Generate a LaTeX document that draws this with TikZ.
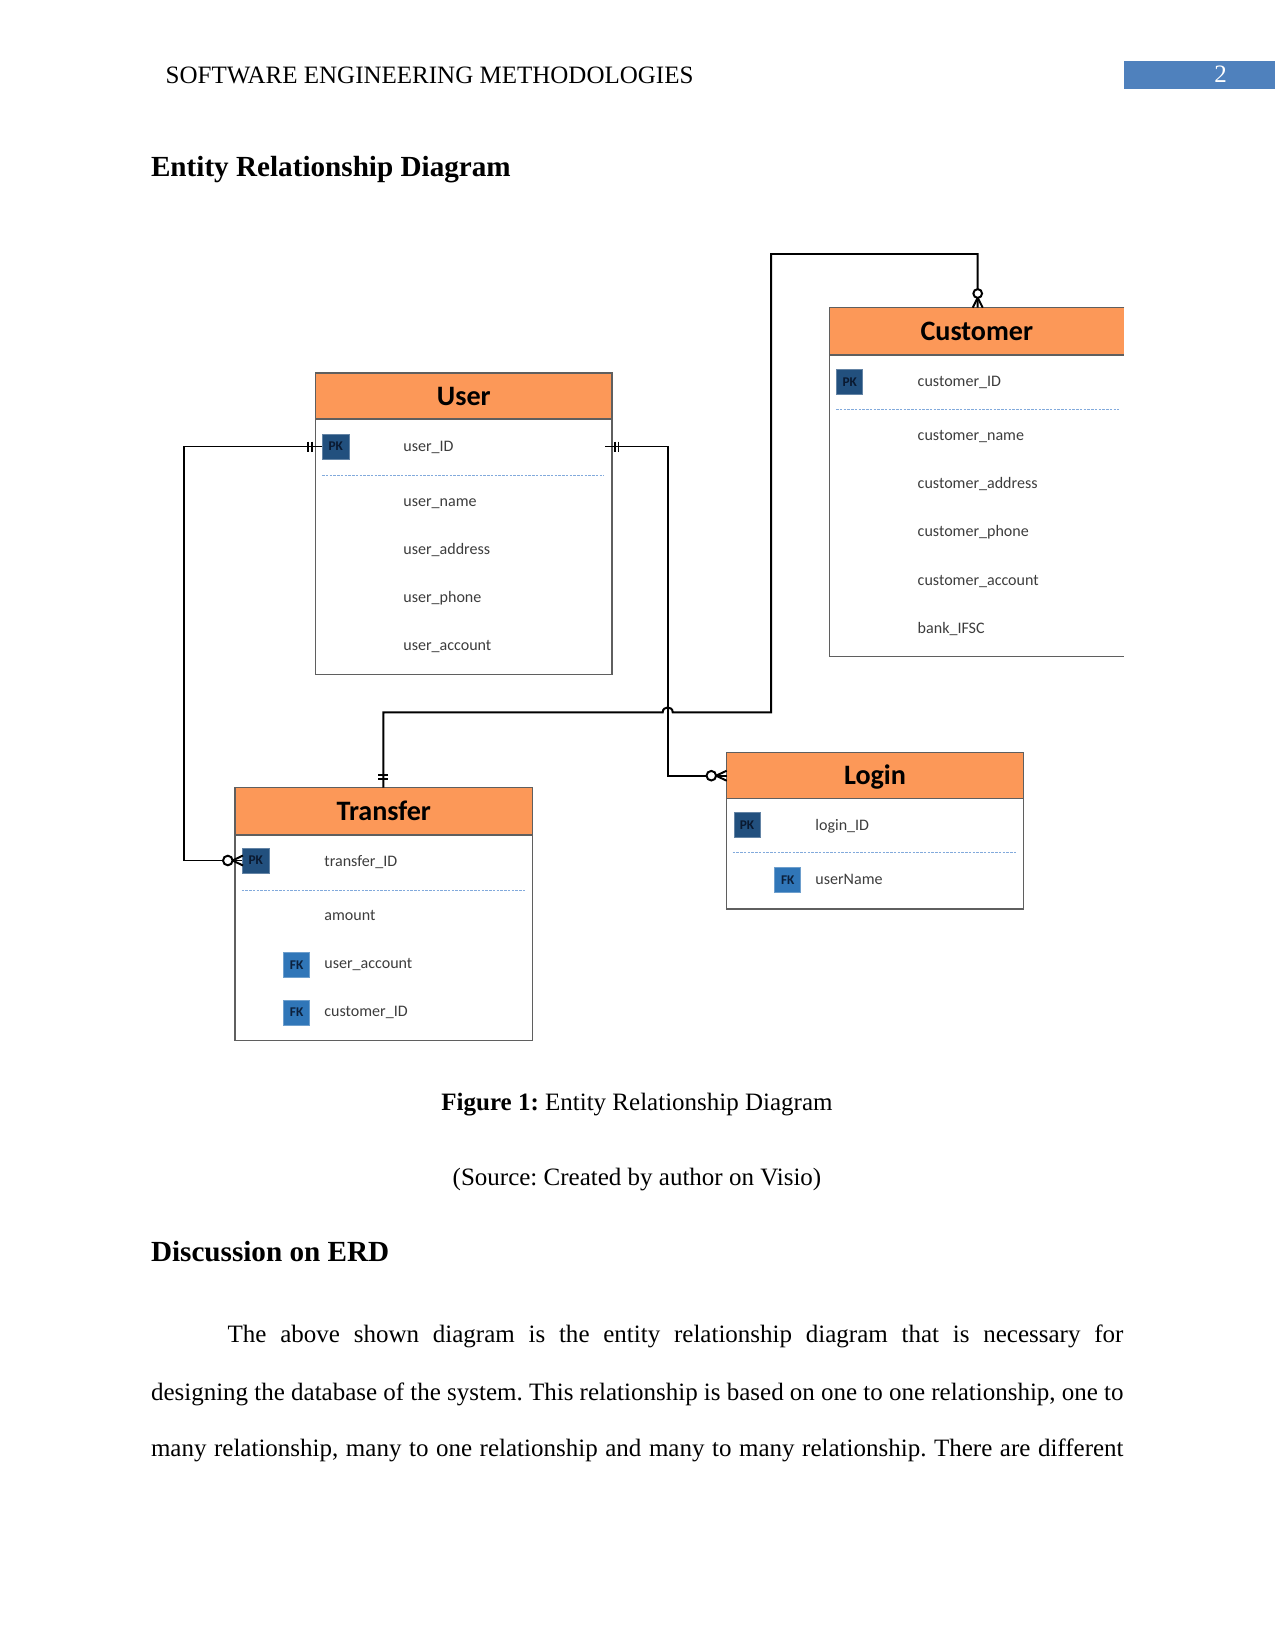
\documentclass[tikz,border=0pt]{standalone}
\usepackage{fontspec}
\setmainfont{Liberation Serif}
\newfontfamily\erd{Carlito}
\definecolor{boxgray}{RGB}{95,95,95}
\definecolor{hdrorange}{RGB}{252,152,88}
\definecolor{pkblue}{RGB}{34,80,126}
\definecolor{fkblue}{RGB}{48,118,184}
\definecolor{pktext}{RGB}{10,25,48}
\definecolor{fktext}{RGB}{12,32,60}
\definecolor{rowgray}{RGB}{60,60,60}
\definecolor{seplblue}{RGB}{130,170,220}
\definecolor{pagenum}{RGB}{79,129,189}
\begin{document}
\frenchspacing
\begin{tikzpicture}[x=0.48pt,y=-0.48pt,
  boxline/.style={draw=boxgray,line width=0.7pt},
  conn/.style={line width=0.95pt,draw=black},
  rowtxt/.style={anchor=base west,inner sep=0pt,font=\erd\fontsize{7.7}{9}\selectfont,text=rowgray},
  etitle/.style={anchor=base,inner sep=0pt,font=\erd\bfseries\fontsize{13.5}{16}\selectfont,text=black},
  keybox/.style={minimum width=12.5pt,minimum height=12pt,inner sep=0pt,line width=0.3pt,font=\erd\bfseries\fontsize{6.4}{7}\selectfont},
  pkbox/.style={keybox,fill=pkblue,draw=pkblue!70!white,text=pktext},
  fkbox/.style={keybox,fill=fkblue,draw=fkblue!70!white,text=fktext},
  sepline/.style={draw=seplblue,line width=0.45pt,dash pattern=on 1.2pt off 0.6pt},
  ptext/.style={anchor=base west,inner sep=0pt,font=\fontsize{12}{14}\selectfont},
  ctext/.style={anchor=base,inner sep=0pt,font=\fontsize{12}{14}\selectfont},
  headtext/.style={anchor=base west,inner sep=0pt,font=\bfseries\fontsize{14}{16}\selectfont}]
\useasboundingbox (0,0) rectangle (1275,1651);

% ---------- page header ----------
\node[ptext] (runhead) at (165.3,83.3) {SOFTWARE ENGINEERING METHODOLOGIES};
\fill[pagenum] (1124.3,60.7) rectangle (1275,89);
\node[ctext,text=white] (pgno) at (1220.7,82.3) {2};
\node[headtext] (h1) at (150.6,176.7) {Entity Relationship Diagram};

% ---------- User ----------
\draw[boxline,fill=hdrorange] (315.7,373) rectangle (612,419);
\draw[boxline] (315.7,419) rectangle (612,674.5);
\node[etitle] (userT) at (463.8,405) {User};
\node[pkbox] (upk) at (335.8,446.5) {PK};
\node[rowtxt] (u1) at (403,451.5) {user\_ID};
\draw[sepline] (322,475) -- (604,475);
\node[rowtxt] (u2) at (403,506) {user\_name};
\node[rowtxt] (u3) at (403,554) {user\_address};
\node[rowtxt] (u4) at (403,602) {user\_phone};
\node[rowtxt] (u5) at (403,650.5) {user\_account};

% ---------- Customer (cut at right margin) ----------
\fill[hdrorange] (829.3,307.7) rectangle (1124.3,355);
\draw[boxline] (1124.3,307.7) -- (829.3,307.7) -- (829.3,656.7) -- (1124.3,656.7);
\draw[boxline] (829.3,355) -- (1124.3,355);
\node[etitle] (custT) at (976.8,340.5) {Customer};
\node[pkbox] (cpk) at (849.7,382) {PK};
\node[rowtxt] (c1) at (917.3,386.5) {customer\_ID};
\draw[sepline] (836,409) -- (1119,409);
\node[rowtxt] (c2) at (917.3,440) {customer\_name};
\node[rowtxt] (c3) at (917.3,488.3) {customer\_address};
\node[rowtxt] (c4) at (917.3,536.7) {customer\_phone};
\node[rowtxt] (c5) at (917.3,585) {customer\_account};
\node[rowtxt] (c6) at (917.3,633.3) {bank\_IFSC};

% ---------- Transfer ----------
\draw[boxline,fill=hdrorange] (235,787.7) rectangle (532.7,835);
\draw[boxline] (235,835) rectangle (532.7,1040.7);
\node[etitle] (trT) at (383.8,820.5) {Transfer};
\node[pkbox] (tpk) at (255.8,860.5) {PK};
\node[rowtxt] (t1) at (324,866) {transfer\_ID};
\draw[sepline] (241.7,890) -- (525,890);
\node[rowtxt] (t2) at (324,920) {amount};
\node[fkbox] (tfk1) at (296.7,964.7) {FK};
\node[rowtxt] (t3) at (324,968.5) {user\_account};
\node[fkbox] (tfk2) at (296.7,1012.5) {FK};
\node[rowtxt] (t4) at (324,1016.5) {customer\_ID};

% ---------- Login ----------
\draw[boxline,fill=hdrorange] (726.7,752.3) rectangle (1023.3,798.3);
\draw[boxline] (726.7,798.3) rectangle (1023.3,909);
\node[etitle] (lgT) at (875,784.5) {Login};
\node[pkbox] (lpk) at (747,825) {PK};
\node[rowtxt] (l1) at (815,830) {login\_ID};
\draw[sepline] (732.7,852.7) -- (1015.7,852.7);
\node[fkbox] (lfk) at (787.7,880) {FK};
\node[rowtxt] (l2) at (815,884.5) {userName};

% ---------- connector anchors ----------
\coordinate (leftlane) at (184,0);
\coordinate (uR) at (605,446.5);
\coordinate (midlane) at (668,0);
\coordinate (lgL) at (726.7,775.7);
\coordinate (tTop) at (383.3,787.7);
\coordinate (cTop) at (977.7,307.7);

% User -- Transfer (one to zero-or-many)
\draw[conn] (upk.west) -- (upk.west -| leftlane) |- (tpk.west);
\draw[conn] (307.7,441.5) -- (307.7,451.5) (311.7,441.5) -- (311.7,451.5);
\draw[conn] (232.5,860.5) -- (243,855.5) (232.5,860.5) -- (243,865.5);
\draw[conn,fill=white] (227.8,860.5) circle[radius=2.3pt];

% User -- Login (one to zero-or-many)
\draw[conn] (uR) -- (uR -| midlane) |- (lgL);
\draw[conn] (615,441.5) -- (615,451.5) (618.5,441.5) -- (618.5,451.5);
\draw[conn] (716,775.7) -- (726.7,770.7) (716,775.7) -- (726.7,780.7);
\draw[conn,fill=white] (711.3,775.7) circle[radius=2.3pt];

% Transfer -- Customer (one to zero-or-many), hops over the User--Login line
\draw[conn] (tTop) -- (383.3,712.3) -- (662.7,712.3)
  .. controls (662.7,705.8) and (672.7,705.8) .. (672.7,712.3)
  -- (771,712.3) -- (771,254) -- (977.7,254) -- (cTop);
\draw[conn] (378.3,775) -- (388.3,775) (378.3,779) -- (388.3,779);
\draw[conn] (977.7,297.7) -- (972.7,307.7) (977.7,297.7) -- (982.7,307.7);
\draw[conn,fill=white] (977.7,293.5) circle[radius=2.1pt];

% ---------- caption and text ----------
\node[ctext] (cap) at (637,1110.7) {\textbf{Figure 1:} Entity Relationship Diagram};
\node[ctext] (src) at (637,1185) {(Source: Created by author on Visio)};
\node[headtext] (h2) at (150.6,1261.7) {Discussion on ERD};
\node[ptext] (p1) at (227.3,1342.3) {\makebox[429.9pt][s]{The above shown diagram is the entity relationship diagram that is necessary for}};
\node[ptext] (p2) at (150.6,1400) {\makebox[466.8pt][s]{designing the database of the system. This relationship is based on one to one relationship, one to}};
\node[ptext] (p3) at (150.6,1456.7) {\makebox[466.8pt][s]{many relationship, many to one relationship and many to many relationship. There are different}};
\end{tikzpicture}
\end{document}
